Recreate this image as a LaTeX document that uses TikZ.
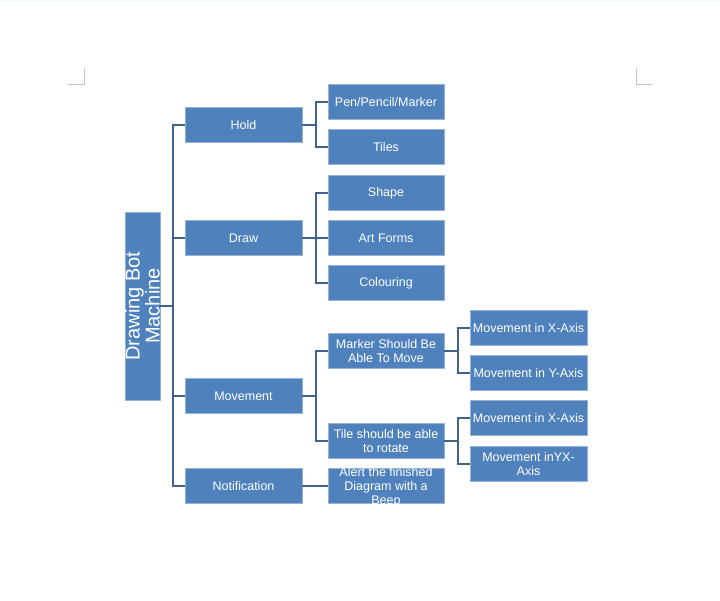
\documentclass[tikz,border=0pt]{standalone}
\usepackage{fontspec}
\setmainfont{Liberation Sans}
\definecolor{boxblue}{HTML}{4F81BD}
\definecolor{linkblue}{HTML}{41628C}
\definecolor{markgray}{HTML}{BFBFBF}
\begin{document}
\begin{tikzpicture}[
        x=1pt, y=-1pt,
        box/.style={rectangle, fill=boxblue, draw=boxblue!60!white, line width=0.5pt, text=white, inner sep=0pt, align=center, font=\fontsize{12.5}{14}\selectfont},
        lvlone/.style={box, minimum width=117pt, minimum height=35pt},
        lvltwo/.style={box, minimum width=116pt, minimum height=35pt},
        lvlthree/.style={box, minimum width=117pt, minimum height=35pt},
        root/.style={box, rotate=90, minimum width=188pt, minimum height=35pt, font=\fontsize{20}{20}\selectfont},
        link/.style={draw=linkblue, line width=1.1pt}
    ]
    \useasboundingbox (0,0) rectangle (720,600);
    \fill[cyan!6] (0,0) rectangle (720,2);
    \draw[markgray, line width=0.8pt] (84,68) -- (84,84) -- (68,84);
    \draw[markgray, line width=0.8pt] (636,68) -- (636,84) -- (652,84);

    \node[root] (dbm) at (142.5,306) {Drawing Bot\\Machine};

    \node[lvlone] (hold) at (243.5,125) {Hold};
    \node[lvlone] (draw) at (243.5,238) {Draw};
    \node[lvlone] (move) at (243.5,396) {Movement};
    \node[lvlone] (notif) at (243.5,486) {Notification};

    \node[lvltwo] (pen) at (386,102) {Pen/Pencil/Marker};
    \node[lvltwo] (tiles) at (386,147) {Tiles};
    \node[lvltwo] (shape) at (386,193) {Shape};
    \node[lvltwo] (art) at (386,238) {Art Forms};
    \node[lvltwo] (colour) at (386,283) {Colouring};
    \node[lvltwo] (marker) at (386,351) {Marker Should Be\\Able To Move};
    \node[lvltwo] (tile) at (386,441) {Tile should be able\\to rotate};
    \node[lvltwo] (alert) at (386,486) {\smash{\raisebox{-5pt}{\begin{tabular}{@{}c@{}}Alert the finished\\Diagram with a\\Beep\end{tabular}}}};

    \node[lvlthree] (mx) at (528.5,328) {Movement in X-Axis};
    \node[lvlthree] (my) at (528.5,373) {Movement in Y-Axis};
    \node[lvlthree] (tx) at (528.5,418) {Movement in X-Axis};
    \node[lvlthree] (ty) at (528.5,464) {Movement inYX-\\Axis};

    \coordinate (trunk) at (173,306);
    \coordinate (holdj) at (316,125);
    \coordinate (drawj) at (316,238);
    \coordinate (movej) at (316,396);
    \coordinate (markj) at (458,351);
    \coordinate (tilej) at (458,441);

    \draw[link] (dbm.south) -- (trunk);
    \foreach \n in {hold, draw, move, notif}
        \draw[link] (\n.west) -| (trunk);
    \draw[link] (hold.east) -- (holdj);
    \foreach \n in {pen, tiles}
        \draw[link] (\n.west) -| (holdj);
    \draw[link] (draw.east) -- (drawj);
    \foreach \n in {shape, art, colour}
        \draw[link] (\n.west) -| (drawj);
    \draw[link] (move.east) -- (movej);
    \foreach \n in {marker, tile}
        \draw[link] (\n.west) -| (movej);
    \draw[link] (marker.east) -- (markj);
    \foreach \n in {mx, my}
        \draw[link] (\n.west) -| (markj);
    \draw[link] (tile.east) -- (tilej);
    \foreach \n in {tx, ty}
        \draw[link] (\n.west) -| (tilej);
    \draw[link] (notif.east) -- (alert.west);
\end{tikzpicture}
\end{document}
